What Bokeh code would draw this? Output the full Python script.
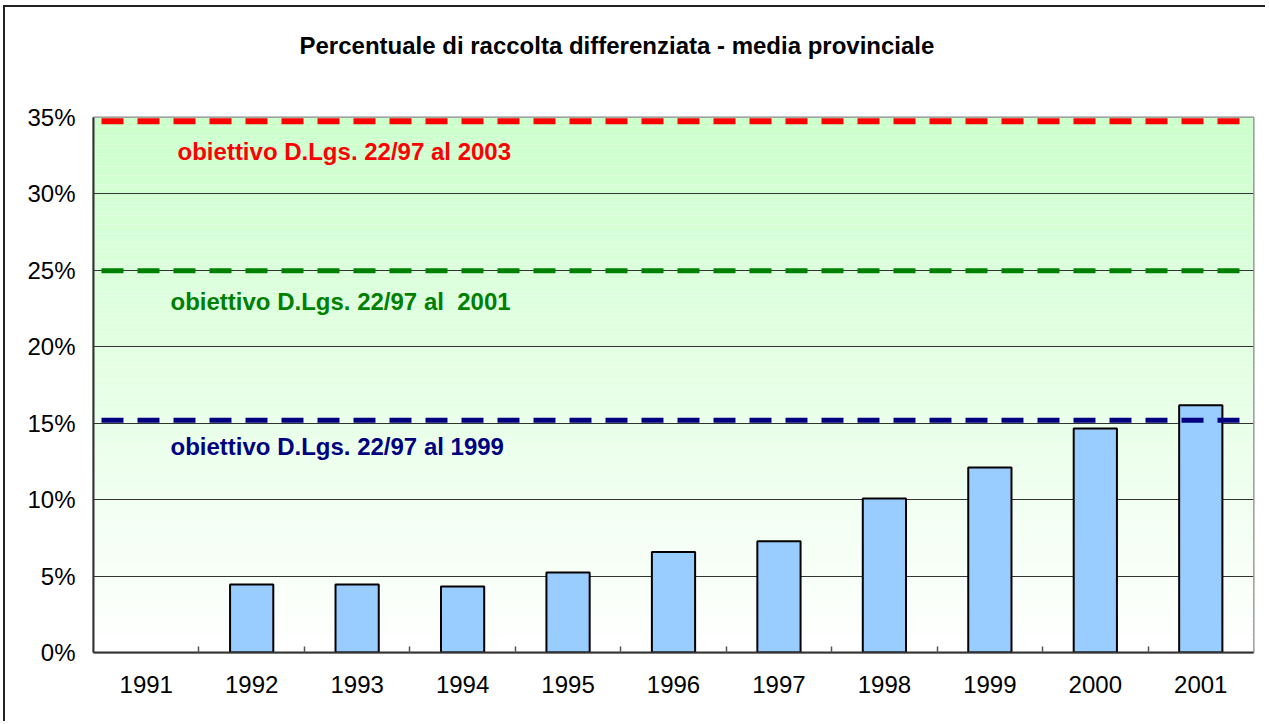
from bokeh.plotting import figure
from bokeh.models import Range1d, FixedTicker, PrintfTickFormatter, Label, Title
from bokeh.embed import file_html
from bokeh.resources import INLINE

# ---- data ----
years = ["1991", "1992", "1993", "1994", "1995", "1996", "1997", "1998", "1999", "2000", "2001"]
percent = [float("nan"), 4.45, 4.45, 4.32, 5.24, 6.57, 7.27, 10.08, 12.10, 14.65, 16.18]
target_values = [34.75, 24.98, 15.19]
target_labels = ["obiettivo D.Lgs. 22/97 al 2003", "obiettivo D.Lgs. 22/97 al \u00a02001", "obiettivo D.Lgs. 22/97 al 1999"]
target_colors = ["#FF0000", "#008000", "#000080"]
title_text = "Percentuale di raccolta differenziata - media provinciale"
y_ticks = [0, 5, 10, 15, 20, 25, 30, 35]

FONT = "Liberation Sans"
n = len(years)
centers = [i + 0.5 for i in range(n)]

p = figure(width=1262, height=716, output_backend="svg", toolbar_location=None,
           x_range=Range1d(0, n), y_range=Range1d(0, 35),
           min_border_left=88, min_border_right=14, min_border_top=110, min_border_bottom=71,
           background_fill_color="white", border_fill_color="white")
p.styles = {"border-left": "2px solid #222222", "border-top": "2px solid #222222",
            "margin-left": "3px", "margin-top": "5px"}

# title: a thin spacer next to the frame, then the real title above it
p.title.text = ""
p.add_layout(Title(text=" ", text_font_size="1px", standoff=56), "above")
p.add_layout(Title(text=title_text, align="left", offset=206, standoff=0,
                   text_font=FONT, text_font_style="bold", text_font_size="24px",
                   text_color="black"), "above")

# background gradient (light green at top to white at bottom)
steps = 120
bottoms, tops, cols = [], [], []
for k in range(steps):
    t = (k + 0.5) / steps
    r = int(round(255 - 51 * t))
    cols.append("#%02X%02X%02X" % (r, 255, r))
    bottoms.append(35.0 * k / steps)
    tops.append(35.0 * (k + 1) / steps)
p.quad(left=0, right=n, bottom=bottoms, top=tops, fill_color=cols, line_color=None, level="image")

# bars
p.vbar(x=centers, top=percent, width=0.41, bottom=0, fill_color="#99CCFF",
       line_color="#000000", line_width=2)

# target lines
widths = [6, 5, 5]
for v, c, w in zip(target_values, target_colors, widths):
    p.line(x=[0, n], y=[v, v], line_color=c, line_width=w, line_dash="22 14",
           line_dash_offset=28)

# target labels
label_x = [0.797, 0.73, 0.73]
label_y = [32.8, 22.94, 13.45]
for tx, ty, txt, c in zip(label_x, label_y, target_labels, target_colors):
    p.add_layout(Label(x=tx, y=ty, text=txt, text_color=c, text_font=FONT,
                       text_font_style="bold", text_font_size="24px",
                       text_baseline="middle", text_align="left"))

# axes
p.outline_line_color = "#888888"
p.outline_line_width = 2
p.xgrid.visible = False
p.ygrid.ticker = FixedTicker(ticks=y_ticks)
p.ygrid.grid_line_color = "#333333"
p.ygrid.grid_line_width = 1

xa = p.xaxis[0]
xa.ticker = FixedTicker(ticks=centers, minor_ticks=list(range(1, n)))
xa.major_label_overrides = {c: y for c, y in zip(centers, years)}
xa.major_tick_line_color = None
xa.major_tick_in = 0
xa.major_tick_out = 0
xa.minor_tick_in = 6
xa.minor_tick_out = 0
xa.minor_tick_line_color = "#555555"
xa.minor_tick_line_width = 1.5
xa.axis_line_color = "#333333"
xa.axis_line_width = 2
xa.major_label_standoff = 23
xa.major_label_text_font = FONT
xa.major_label_text_font_size = "24px"
xa.major_label_text_color = "black"

ya = p.yaxis[0]
ya.ticker = FixedTicker(ticks=y_ticks)
ya.formatter = PrintfTickFormatter(format="%d%%")
ya.major_tick_in = 0
ya.major_tick_out = 0
ya.minor_tick_line_color = None
ya.axis_line_color = "#333333"
ya.axis_line_width = 2
ya.major_label_standoff = 18
ya.major_label_text_font = FONT
ya.major_label_text_font_size = "24px"
ya.major_label_text_color = "black"

open("out.html", "w").write(file_html(p, INLINE))
